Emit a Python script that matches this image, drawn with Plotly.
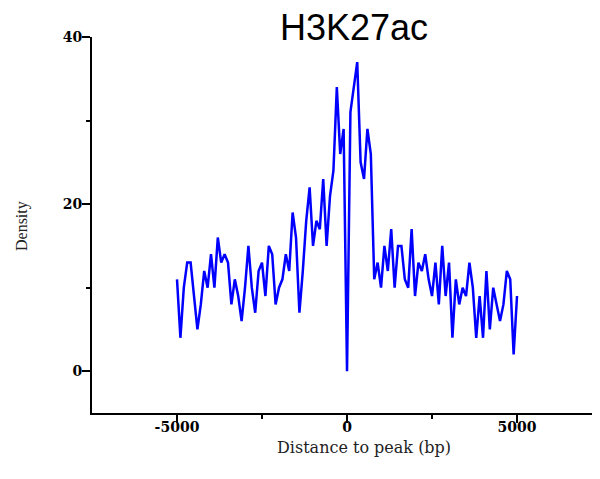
import plotly.graph_objects as go

# Bin positions (bp, 100 bp bins) and density values
distance_bp = list(range(-5000, 5001, 100))
density = [
    11, 4, 10, 13, 13, 9, 5, 8, 12, 10,
    14, 10, 16, 13, 14, 13, 8, 11, 9, 6,
    10, 15, 10, 7, 12, 13, 9, 15, 14, 8,
    10, 11, 14, 12, 19, 16, 7, 12, 18, 22,
    15, 18, 17, 23, 15, 21, 24, 34, 26, 29,
    0, 31, 34, 37, 25, 23, 29, 26, 11, 13,
    10, 15, 12, 17, 10, 15, 15, 11, 10, 17,
    9, 13, 12, 14, 11, 9, 13, 8, 15, 9,
    13, 4, 11, 8, 10, 9, 13, 10, 4, 9,
    4, 12, 5, 10, 8, 6, 8, 12, 11, 2,
    9,
]
x_ticks = [-5000, 0, 5000]
y_ticks = [0, 20, 40]

title_text = "H3K27ac"
x_title = "Distance to peak (bp)"
y_title = "Density"

fig = go.Figure()
fig.add_trace(go.Scatter(
    x=distance_bp, y=density, mode="lines",
    line=dict(color="#0000FF", width=2.5),
    showlegend=False, hoverinfo="x+y",
))

tick_font = dict(family="DejaVu Serif", size=14, color="black", weight="bold")

# The page body has an 8px margin, so the figure is offset by 8px
fig.update_layout(
    width=592, height=471,
    margin=dict(l=84, r=0, t=29, b=66, autoexpand=False),
    paper_bgcolor="white", plot_bgcolor="white",
    xaxis=dict(
        range=[-7500, 7440], showgrid=False, zeroline=False,
        showline=True, linecolor="black", linewidth=2,
        ticks="outside", ticklen=8, tickwidth=2, tickcolor="black",
        tickvals=x_ticks, ticktext=[str(v) for v in x_ticks],
        tickfont=tick_font, automargin=False, ticklabelstandoff=-8,
        minor=dict(tickvals=[-2500, 2500], ticks="outside", ticklen=4,
                   tickwidth=2, tickcolor="black", showgrid=False),
    ),
    yaxis=dict(
        range=[-5, 40], showgrid=False, zeroline=False,
        showline=True, linecolor="black", linewidth=2,
        ticks="outside", ticklen=8, tickwidth=2, tickcolor="black",
        tickvals=y_ticks, ticktext=[str(v) for v in y_ticks],
        tickfont=tick_font, ticklabelstandoff=-3, automargin=False,
        minor=dict(tickvals=[10, 30], ticks="outside", ticklen=4,
                   tickwidth=2, tickcolor="black", showgrid=False),
    ),
    annotations=[
        dict(text=title_text, xref="paper", yref="paper",
             x=0.516, y=1.026, xanchor="center", yanchor="middle",
             showarrow=False,
             font=dict(family="Liberation Sans", size=36, color="black")),
        dict(text=x_title, xref="paper", yref="paper",
             x=0.535, y=-0.092, xanchor="center", yanchor="middle",
             showarrow=False,
             font=dict(family="DejaVu Serif", size=16, color="#222222")),
        dict(text=y_title, xref="paper", yref="paper",
             x=-0.138, y=0.497, xanchor="center", yanchor="middle",
             textangle=-90, showarrow=False,
             font=dict(family="Liberation Serif", size=16, color="#222222")),
    ],
)

fig.write_html("out.html")
